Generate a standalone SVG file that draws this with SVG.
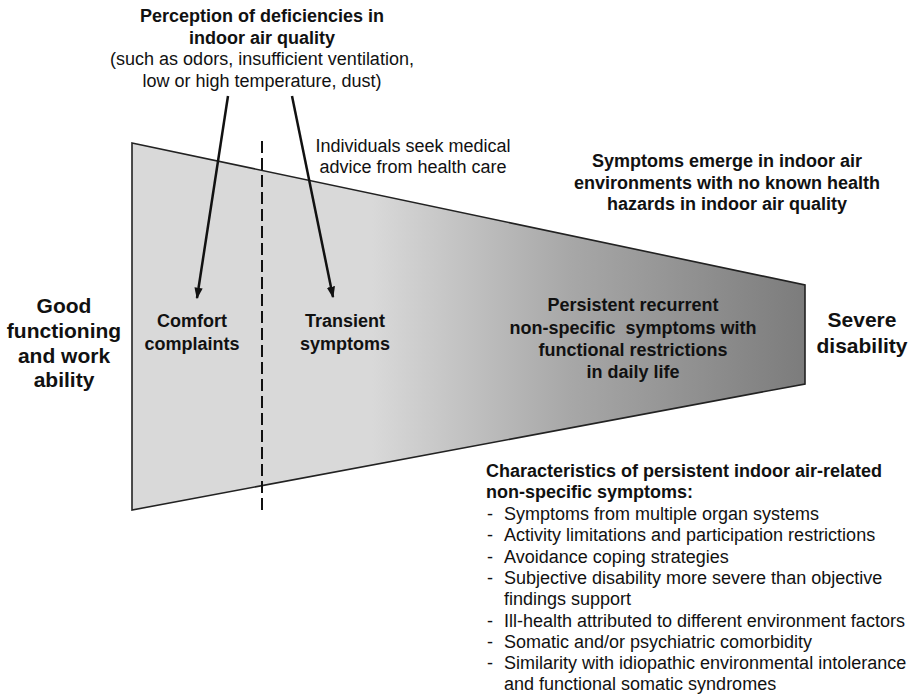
<svg xmlns="http://www.w3.org/2000/svg" width="915" height="695" viewBox="0 0 915 695">
  <style>
    text { font-family: "Liberation Sans", Arial, Helvetica, sans-serif; fill: #111; }
    .b { font-weight: bold; font-size: 18px; }
    .r { font-size: 18px; }
    .big { font-weight: bold; font-size: 21px; }
    .mid { text-anchor: middle; }
    .arrow { stroke: #111; stroke-width: 2.5; fill: none; marker-end: url(#head); }
  </style>
  <defs>
    <linearGradient id="shade" gradientUnits="userSpaceOnUse" x1="372" y1="0" x2="805" y2="0">
      <stop offset="0" stop-color="#d9d9d9"/>
      <stop offset="0.45" stop-color="#a8a8a8"/>
      <stop offset="1" stop-color="#7c7c7c"/>
    </linearGradient>
    <marker id="head" viewBox="0 0 10 10" refX="9" refY="5" markerWidth="4.6" markerHeight="4.6" orient="auto" markerUnits="strokeWidth">
      <path d="M0,1.4 L10,5 L0,8.6 z" fill="#111"/>
    </marker>
  </defs>
  <rect width="915" height="695" fill="#fff"/>

  <!-- funnel from good functioning to severe disability -->
  <g id="funnel">
    <polygon points="132,143 805,285 805,384 132,510" fill="url(#shade)" stroke="#222" stroke-width="1.6"/>
    <line x1="262" y1="141" x2="262" y2="515" stroke="#111" stroke-width="2" stroke-dasharray="12,5"/>
  </g>

  <g id="perception">
    <text class="b mid" x="262" y="22">Perception of deficiencies in</text>
    <text class="b mid" x="262" y="43.5">indoor air quality</text>
    <text class="r mid" x="262" y="65">(such as odors, insufficient ventilation,</text>
    <text class="r mid" x="262" y="86.5">low or high temperature, dust)</text>
  </g>

  <g id="medical-advice">
    <text class="r mid" x="413" y="152">Individuals seek medical</text>
    <text class="r mid" x="413" y="173">advice from health care</text>
  </g>

  <g id="no-hazards">
    <text class="b mid" x="727" y="167">Symptoms emerge in indoor air</text>
    <text class="b mid" x="727" y="188.5">environments with no known health</text>
    <text class="b mid" x="727" y="210">hazards in indoor air quality</text>
  </g>

  <g id="good-functioning">
    <text class="big mid" x="64" y="313">Good</text>
    <text class="big mid" x="64" y="338">functioning</text>
    <text class="big mid" x="64" y="363">and work</text>
    <text class="big mid" x="64" y="387">ability</text>
  </g>

  <g id="comfort">
    <text class="b mid" x="192" y="327">Comfort</text>
    <text class="b mid" x="192" y="350">complaints</text>
  </g>

  <g id="transient">
    <text class="b mid" x="345" y="327">Transient</text>
    <text class="b mid" x="345" y="350">symptoms</text>
  </g>

  <g id="persistent">
    <text class="b mid" x="633" y="311">Persistent recurrent</text>
    <text class="b mid" x="633" y="333.5" xml:space="preserve">non-specific  symptoms with</text>
    <text class="b mid" x="633" y="356">functional restrictions</text>
    <text class="b mid" x="633" y="378">in daily life</text>
  </g>

  <g id="severe">
    <text class="big mid" x="862" y="327">Severe</text>
    <text class="big mid" x="862" y="353">disability</text>
  </g>

  <g id="characteristics">
    <text class="b" x="486" y="477">Characteristics of persistent indoor air-related</text>
    <text class="b" x="486" y="498">non-specific symptoms:</text>
    <text class="r" x="487" y="520">-</text><text class="r" x="504" y="520">Symptoms from multiple organ systems</text>
    <text class="r" x="487" y="541.3">-</text><text class="r" x="504" y="541.3">Activity limitations and participation restrictions</text>
    <text class="r" x="487" y="562.6">-</text><text class="r" x="504" y="562.6">Avoidance coping strategies</text>
    <text class="r" x="487" y="583.9">-</text><text class="r" x="504" y="583.9">Subjective disability more severe than objective</text>
    <text class="r" x="504" y="605.2">findings support</text>
    <text class="r" x="487" y="626.5">-</text><text class="r" x="504" y="626.5">Ill-health attributed to different environment factors</text>
    <text class="r" x="487" y="647.8">-</text><text class="r" x="504" y="647.8">Somatic and/or psychiatric comorbidity</text>
    <text class="r" x="487" y="669.1">-</text><text class="r" x="504" y="669.1">Similarity with idiopathic environmental intolerance</text>
    <text class="r" x="504" y="690.4">and functional somatic syndromes</text>
  </g>

  <g id="connectors">
    <line class="arrow" x1="228" y1="96" x2="197" y2="298"/>
    <line class="arrow" x1="292" y1="96" x2="333" y2="297"/>
  </g>
</svg>
